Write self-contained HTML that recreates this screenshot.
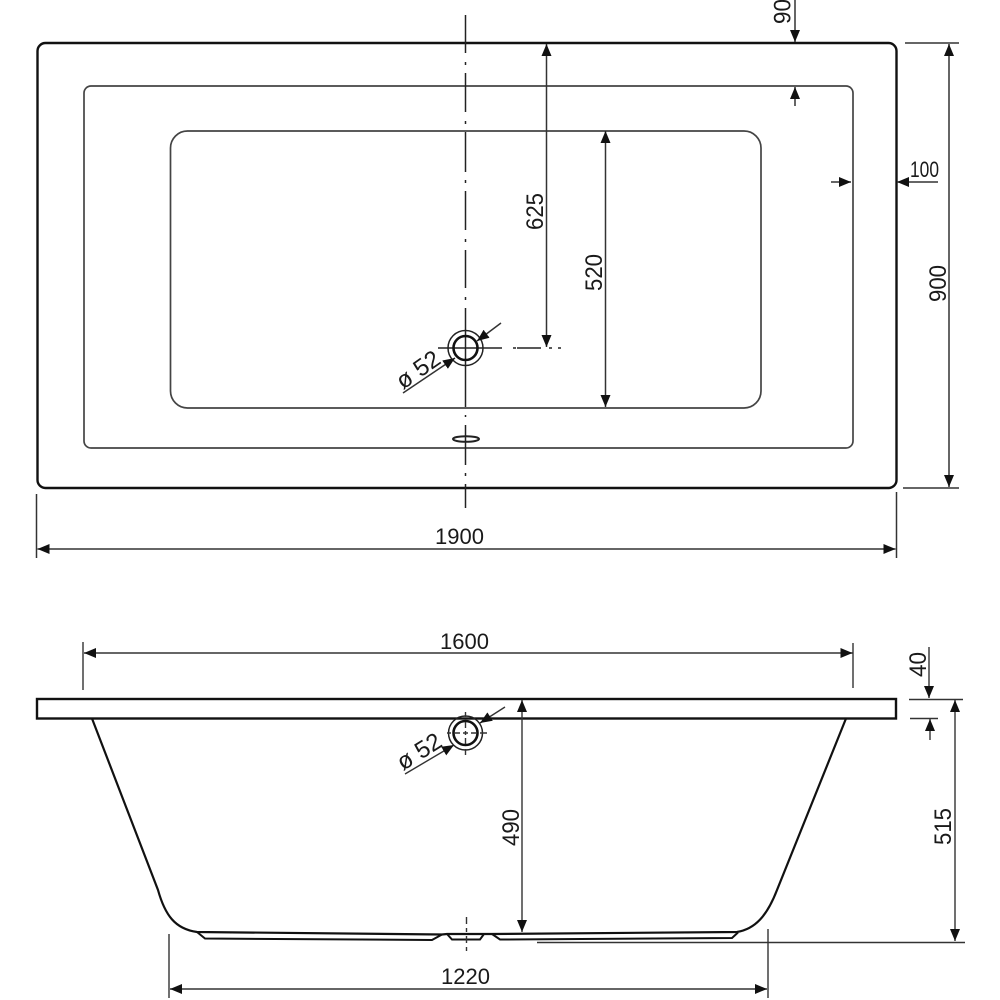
<!DOCTYPE html>
<html><head><meta charset="utf-8"><style>html,body{margin:0;padding:0;background:#fff}svg{display:block}text{font-family:"Liberation Sans",sans-serif;font-size:22px;fill:#1a1a1a}.v{font-size:24px}</style></head>
<body>
<svg width="1000" height="1000" viewBox="0 0 1000 1000" xmlns="http://www.w3.org/2000/svg">
<defs><marker id="a" markerUnits="userSpaceOnUse" markerWidth="12" markerHeight="11" refX="12" refY="5.500" orient="auto-start-reverse"><path d="M0 0.500L12 5.500L0 10.500Z" fill="#111"/></marker></defs>
<!-- Top view -->
<rect x="37.500" y="43" width="859" height="445" rx="8" fill="none" stroke="#111" stroke-width="2.400"/>
<rect x="84" y="86" width="769" height="362" rx="7" fill="none" stroke="#444" stroke-width="1.700"/>
<rect x="170.500" y="131" width="590.500" height="277" rx="17" fill="none" stroke="#444" stroke-width="1.700"/>
<g stroke="#222" stroke-width="1.500" fill="none">
<path d="M465.500 15V53M465.500 62V65M465.500 73V112M465.500 121V124M465.500 132V172M465.500 180V183M465.500 191V230M465.500 239V242M465.500 250V288M465.500 297V300M465.500 308V407M465.500 415V417M465.500 425V465M465.500 473V476M465.500 484V508"/>
<path d="M438 348H502M513 348H516M517 348H541M549 348H552M558 348H561"/>
<ellipse cx="466" cy="439" rx="13" ry="2.800" stroke-width="2"/>
</g>
<circle cx="465.500" cy="348" r="12" fill="none" stroke="#111" stroke-width="2.600"/>
<circle cx="465.500" cy="348" r="17.500" fill="none" stroke="#222" stroke-width="1.500"/>
<g stroke="#333" stroke-width="1.500" fill="none">
<path d="M546.500 44V347" marker-start="url(#a)" marker-end="url(#a)"/>
<path d="M605.500 131V407" marker-start="url(#a)" marker-end="url(#a)"/>
<path d="M949 44V487" marker-start="url(#a)" marker-end="url(#a)"/>
<path d="M905 43H959M903 488H959"/>
<path d="M37.500 549H895.500" marker-start="url(#a)" marker-end="url(#a)"/>
<path d="M36.500 494V558M896.500 492V558"/>
<path d="M795 0V42" marker-end="url(#a)"/>
<path d="M795 106V87" marker-end="url(#a)"/>
<path d="M831 182H851" marker-end="url(#a)"/>
<path d="M938 182H897" marker-end="url(#a)"/>
<path d="M501 323L477 341" marker-end="url(#a)"/>
<path d="M403 393L455 358" marker-end="url(#a)"/>
</g>
<text x="435" y="544">1900</text>
<text x="910" y="177" textLength="29" lengthAdjust="spacingAndGlyphs">100</text>
<text class="v" transform="translate(543,230) rotate(-90)" textLength="37" lengthAdjust="spacingAndGlyphs">625</text>
<text class="v" transform="translate(602,291) rotate(-90)" textLength="37" lengthAdjust="spacingAndGlyphs">520</text>
<text class="v" transform="translate(946,302) rotate(-90)" textLength="37" lengthAdjust="spacingAndGlyphs">900</text>
<text class="v" transform="translate(790.500,24) rotate(-90)" textLength="25" lengthAdjust="spacingAndGlyphs">90</text>
<text transform="translate(403,390) rotate(-35)" style="font-size:24px">ø 52</text>
<!-- Side view -->
<rect x="37" y="699" width="859" height="19.500" fill="none" stroke="#111" stroke-width="2.400"/>
<path d="M92 718.500L158 890C165 915 175 929 197 932L442 934.500L447 934L483 934L492 934L737 932C755 929 767 916 777 890L846 718.500" fill="none" stroke="#111" stroke-width="2.200"/>
<path d="M197 932L205 938.500L432 940L442 934.500M447 934L452 939.500H480L484 934M492 934L500 939.500L732 938L738 932.500" fill="none" stroke="#111" stroke-width="2"/>
<circle cx="465.500" cy="733" r="12" fill="none" stroke="#111" stroke-width="2.600"/>
<circle cx="465.500" cy="733" r="17" fill="none" stroke="#222" stroke-width="1.500"/>
<g stroke="#333" stroke-width="1.400" fill="none">
<path d="M465.500 712V717M465.500 722V728M465.500 731V735M465.500 738V744M465.500 749V755M447 733H451M454 733H460M463 733H468M471 733H477M480 733H487"/>
<path d="M466.500 917V924M466.500 928V932M466.500 936V943M466.500 947V951"/>
<path d="M84 653H852.500" marker-start="url(#a)" marker-end="url(#a)"/>
<path d="M83 642V690M853 643V688"/>
<path d="M929 647V698" marker-end="url(#a)"/>
<path d="M909 699.500H963M910 718.500H938"/>
<path d="M930 740V719" marker-end="url(#a)"/>
<path d="M955 700V941" marker-start="url(#a)" marker-end="url(#a)"/>
<path d="M537 942.500H965"/>
<path d="M522 700V932" marker-start="url(#a)" marker-end="url(#a)"/>
<path d="M170 989H767" marker-start="url(#a)" marker-end="url(#a)"/>
<path d="M169 934V998M768 929V998"/>
<path d="M505 707L480 723" marker-end="url(#a)"/>
<path d="M405 774L454 745" marker-end="url(#a)"/>
</g>
<text x="440" y="649">1600</text>
<text x="441" y="984">1220</text>
<text class="v" transform="translate(926,677) rotate(-90)" textLength="25" lengthAdjust="spacingAndGlyphs">40</text>
<text class="v" transform="translate(519,846) rotate(-90)" textLength="37" lengthAdjust="spacingAndGlyphs">490</text>
<text class="v" transform="translate(951,845) rotate(-90)" textLength="37" lengthAdjust="spacingAndGlyphs">515</text>
<text transform="translate(403,771) rotate(-32)" style="font-size:24px">ø 52</text>
</svg>
</body></html>
